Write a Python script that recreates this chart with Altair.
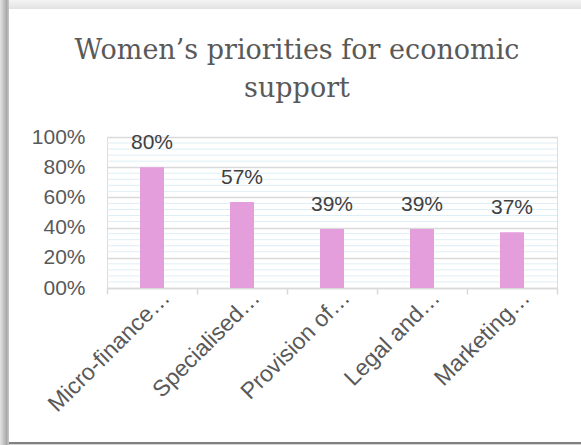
import altair as alt
import pandas as pd

categories = ["Micro-finance…", "Specialised…", "Provision of…", "Legal and…", "Marketing…"]
values = [0.80, 0.57, 0.39, 0.39, 0.37]
y_major = [0.0, 0.2, 0.4, 0.6, 0.8, 1.0]
y_minor = [0.04, 0.08, 0.12, 0.16, 0.24, 0.28, 0.32, 0.36, 0.44, 0.48, 0.52, 0.56,
           0.64, 0.68, 0.72, 0.76, 0.84, 0.88, 0.92, 0.96]
title_lines = ["Women’s priorities for economic", "support"]

df = pd.DataFrame({"cat": categories, "val": values})
minor_df = pd.DataFrame({"g": y_minor})
one = pd.DataFrame({"k": [0]})

SANS = "Liberation Sans"

x_axis = alt.Axis(labelAngle=-45, labelFontSize=23, labelColor="#595959",
                  labelFont=SANS, labelPadding=-8, labelOffset=6, tickBand="extent",
                  tickSize=6, tickColor="#d9d9d9", tickWidth=1.5,
                  domainColor="#d9d9d9", domainWidth=1.5, grid=False,
                  labelLimit=300, labelOverlap=False)
y_axis = alt.Axis(values=y_major, domain=False, ticks=False,
                  labelFontSize=21, labelFont=SANS, labelOverlap=False,
                  labelColor="#595959", labelPadding=22,
                  labelExpr="datum.value == 0 ? '00%' : format(datum.value, '.0%')",
                  gridColor="#d9d9d9", gridWidth=1.5)
x_scale = alt.Scale(paddingInner=0, paddingOuter=0)
y_scale = alt.Scale(domain=[0, 1], nice=False)

minor = alt.Chart(minor_df).mark_rule(color="#deeef6", strokeWidth=1).encode(
    y=alt.Y("g:Q", scale=y_scale, axis=y_axis, title=None))
bars = alt.Chart(df).mark_bar(size=24, color="#e59edc").encode(
    x=alt.X("cat:N", sort=categories, title=None, scale=x_scale, axis=x_axis),
    y=alt.Y("val:Q", title=None, scale=y_scale, axis=y_axis))
labels = alt.Chart(df).mark_text(dy=-14, baseline="bottom", fontSize=21, font=SANS,
                                 color="#404040").encode(
    x=alt.X("cat:N", sort=categories, title=None, scale=x_scale, axis=x_axis),
    y=alt.Y("val:Q", title=None, scale=y_scale, axis=y_axis),
    text=alt.Text("val:Q", format=".0%"))

title = alt.Chart(one).mark_text(
    text=title_lines, font="DejaVu Serif", fontSize=27, color="#595959",
    align="center", baseline="alphabetic", lineHeight=38
).encode(x=alt.value(190), y=alt.value(-78))

left_shadow = alt.Chart(one).mark_rect(
    color=alt.LinearGradient(gradient="linear", x1=0, x2=1, y1=0, y2=0,
                             stops=[alt.GradientStop(offset=0, color="#e4e4e4"),
                                    alt.GradientStop(offset=0.75, color="#a8a8a8"),
                                    alt.GradientStop(offset=1, color="#c8c8c8")])
).encode(x=alt.value(-107), x2=alt.value(-98), y=alt.value(-137), y2=alt.value(308))
top_shadow = alt.Chart(one).mark_rect(
    color=alt.LinearGradient(gradient="linear", x1=0, x2=0, y1=0, y2=1,
                             stops=[alt.GradientStop(offset=0, color="#f4f4f4"),
                                    alt.GradientStop(offset=1, color="#e2e2e2")])
).encode(x=alt.value(-98), x2=alt.value(474), y=alt.value(-137), y2=alt.value(-128))
bottom_line = alt.Chart(one).mark_rect(color="#808080").encode(
    x=alt.value(-98), x2=alt.value(474), y=alt.value(305), y2=alt.value(307))
bottom_shadow = alt.Chart(one).mark_rect(color="#d4d4d4").encode(
    x=alt.value(-98), x2=alt.value(474), y=alt.value(307), y2=alt.value(308))

chart = alt.layer(minor, bars, labels, title, left_shadow, top_shadow, bottom_line,
                  bottom_shadow).properties(
    width=450, height=151,
    autosize=alt.AutoSizeParams(type="none"),
    padding={"left": 107, "top": 137, "right": 24, "bottom": 157},
).configure_view(stroke=None).configure_axis(labelOverlap=False).configure(background="white")

chart.save("out.html", embed_options={"renderer": "svg", "actions": False})
